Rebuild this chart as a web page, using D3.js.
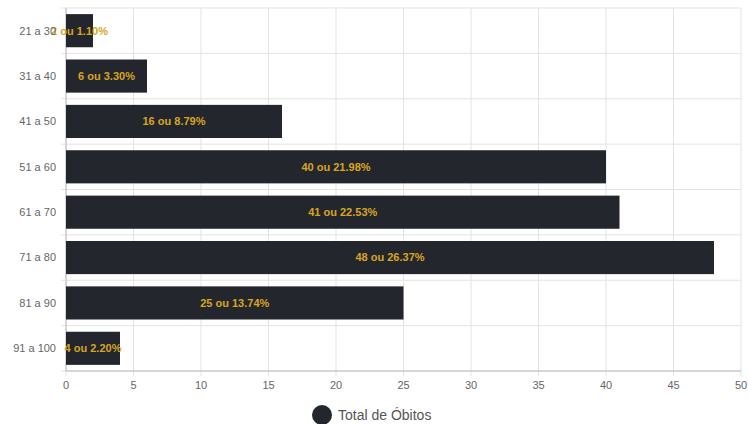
<!DOCTYPE html>
<html><head><meta charset="utf-8">
<script src="https://cdn.jsdelivr.net/npm/d3@7"></script>
<style>body{margin:0;background:#fff;font-family:"Liberation Sans",Arial,sans-serif}</style>
</head><body><svg width="748" height="424"></svg>
<script>
var categories = ['21 a 30','31 a 40','41 a 50','51 a 60','61 a 70','71 a 80','81 a 90','91 a 100'];
var values = [2, 6, 16, 40, 41, 48, 25, 4];
var percents = ['1.10%','3.30%','8.79%','21.98%','22.53%','26.37%','13.74%','2.20%'];
var xTicks = [0,5,10,15,20,25,30,35,40,45,50];

var svg = d3.select('svg');
var m = {l: 66, r: 7, t: 8, b: 53};
var W = 748 - m.l - m.r, H = 424 - m.t - m.b;
var g = svg.append('g').attr('transform', 'translate(' + m.l + ',' + m.t + ')');

var x = d3.scaleLinear().domain([0, 50]).range([0, W]);
var y = d3.scaleBand().domain(categories).range([0, H]).paddingInner(0.27).paddingOuter(0.135);
var step = y.step();

// grid
g.selectAll('.vg').data(xTicks).enter().append('line')
	.attr('x1', function(d){ return x(d) }).attr('x2', function(d){ return x(d) })
	.attr('y1', 0).attr('y2', H + 5).attr('stroke', '#e3e3e3');
g.selectAll('.hg').data(d3.range(categories.length + 1)).enter().append('line')
	.attr('x1', -5).attr('x2', W)
	.attr('y1', function(i){ return i * step }).attr('y2', function(i){ return i * step })
	.attr('stroke', '#e3e3e3');
g.append('line').attr('x1', 0).attr('x2', 0).attr('y1', 0).attr('y2', H).attr('stroke', '#bbb');
g.append('line').attr('x1', 0).attr('x2', W).attr('y1', H).attr('y2', H).attr('stroke', '#bbb');

// bars
g.selectAll('rect').data(values).enter().append('rect')
	.attr('x', 0).attr('y', function(d, i){ return y(categories[i]) })
	.attr('width', function(d){ return x(d) }).attr('height', y.bandwidth())
	.attr('fill', '#23262d');

g.selectAll('.lbl').data(values).enter().append('text')
	.attr('x', function(d){ return x(d) / 2 })
	.attr('y', function(d, i){ return y(categories[i]) + y.bandwidth() / 2 })
	.attr('dy', '0.35em').attr('text-anchor', 'middle')
	.attr('font-size', 11).attr('font-weight', 'bold').attr('fill', '#d9a521')
	.text(function(d, i){ return d + ' ou ' + percents[i] });

// axis labels
g.selectAll('.yl').data(categories).enter().append('text')
	.attr('x', -10).attr('y', function(d){ return y(d) + y.bandwidth() / 2 })
	.attr('dy', '0.35em').attr('text-anchor', 'end').attr('font-size', 11).attr('fill', '#666')
	.text(function(d){ return d });
g.selectAll('.xl').data(xTicks).enter().append('text')
	.attr('x', function(d){ return x(d) }).attr('y', H + 18)
	.attr('text-anchor', 'middle').attr('font-size', 11).attr('fill', '#666')
	.text(function(d){ return d });

// legend
svg.append('circle').attr('cx', 322).attr('cy', 415).attr('r', 10).attr('fill', '#23262d');
svg.append('text').attr('x', 338).attr('y', 420).attr('font-size', 14).attr('fill', '#555').text('Total de Óbitos');
</script></body></html>
